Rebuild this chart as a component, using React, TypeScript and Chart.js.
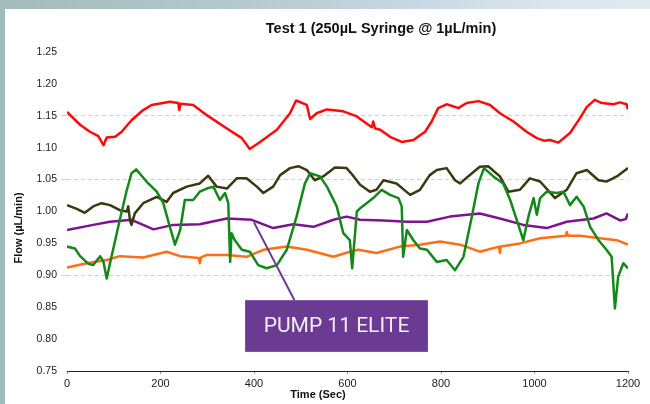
import React, { useEffect, useRef } from "react";
import { Chart, registerables } from "chart.js";

Chart.register(...registerables);

const TITLE = "Test 1 (250µL Syringe @ 1µL/min)";
const X_TITLE = "Time (Sec)";
const Y_TITLE = "Flow (µL/min)";
const CALLOUT_TEXT = "PUMP 11 ELITE";

const X_MIN = 0;
const X_MAX = 1200;
const X_STEP = 200;
const Y_MIN = 0.75;
const Y_MAX = 1.25;
const Y_STEP = 0.05;
const GRID_VALUES = [1.15, 1.05, 0.9];

// [time (s), flow (µL/min)]
const redSeries: [number, number][] = [
  [0, 1.156], [28, 1.136], [49, 1.125], [67, 1.118], [78, 1.104], [85, 1.116], [103, 1.117],
  [117, 1.125], [138, 1.143], [163, 1.159], [181, 1.167], [220, 1.172], [238, 1.17], [240, 1.159],
  [243, 1.169], [270, 1.167], [299, 1.151], [342, 1.13], [374, 1.115], [391, 1.098], [413, 1.109],
  [449, 1.128], [477, 1.154], [490, 1.174], [513, 1.167], [520, 1.145], [534, 1.154], [556, 1.16],
  [591, 1.157], [620, 1.149], [652, 1.132], [655, 1.141], [659, 1.13], [670, 1.128], [691, 1.117],
  [716, 1.109], [741, 1.112], [766, 1.125], [780, 1.141], [794, 1.162], [812, 1.168], [838, 1.162],
  [841, 1.164], [855, 1.17], [880, 1.173], [905, 1.167], [926, 1.154], [955, 1.141], [983, 1.125],
  [1005, 1.115], [1020, 1.111], [1033, 1.112], [1051, 1.108], [1076, 1.123], [1097, 1.146],
  [1112, 1.164], [1129, 1.175], [1144, 1.17], [1169, 1.168], [1183, 1.171], [1197, 1.168], [1200, 1.16],
];

const oliveSeries: [number, number][] = [
  [0, 1.01], [21, 1.004], [38, 0.998], [56, 1.008], [74, 1.013], [92, 1.01], [113, 1.002],
  [128, 1.0], [131, 1.008], [135, 0.985], [138, 0.979], [145, 0.997], [163, 1.013], [192, 1.023],
  [213, 1.015], [227, 1.029], [256, 1.039], [284, 1.044], [302, 1.056], [320, 1.039], [342, 1.036],
  [363, 1.052], [384, 1.052], [406, 1.039], [420, 1.029], [441, 1.039], [456, 1.057], [477, 1.068],
  [495, 1.071], [513, 1.065], [530, 1.049], [548, 1.055], [573, 1.069], [598, 1.068], [610, 1.058],
  [627, 1.042], [648, 1.031], [662, 1.034], [677, 1.049], [705, 1.044], [734, 1.026], [755, 1.034],
  [776, 1.057], [791, 1.065], [812, 1.068], [830, 1.049], [841, 1.044], [858, 1.055], [883, 1.07],
  [901, 1.071], [926, 1.055], [944, 1.031], [969, 1.034], [990, 1.052], [1012, 1.047], [1044, 1.021],
  [1069, 1.034], [1090, 1.06], [1112, 1.065], [1137, 1.049], [1154, 1.047], [1176, 1.055], [1200, 1.068],
];

const greenSeries: [number, number][] = [
  [0, 0.945], [17, 0.942], [28, 0.93], [46, 0.918], [56, 0.916], [71, 0.93], [78, 0.921], [85, 0.895],
  [92, 0.919], [113, 0.987], [128, 1.034], [138, 1.06], [148, 1.066], [170, 1.047], [192, 1.031],
  [206, 1.013], [220, 0.976], [231, 0.948], [242, 0.971], [252, 1.018], [270, 1.018], [284, 1.031],
  [299, 1.036], [313, 1.039], [327, 1.018], [338, 1.029], [345, 1.013], [349, 0.921], [352, 0.966],
  [359, 0.955], [374, 0.94], [391, 0.937], [409, 0.916], [427, 0.911], [449, 0.916], [470, 0.94],
  [491, 0.992], [509, 1.044], [520, 1.06], [541, 1.055], [556, 1.039], [577, 1.008], [591, 0.966],
  [605, 0.955], [610, 0.911], [620, 1.0], [627, 1.005], [641, 1.013], [655, 1.021], [673, 1.034],
  [691, 1.026], [709, 1.021], [716, 1.008], [719, 0.929], [727, 0.971], [741, 0.955], [755, 0.942],
  [770, 0.94], [791, 0.921], [812, 0.924], [830, 0.908], [848, 0.929], [866, 0.992], [880, 1.044],
  [892, 1.068], [912, 1.055], [933, 1.044], [948, 1.018], [962, 0.987], [976, 0.955], [987, 0.992],
  [998, 1.021], [1005, 0.995], [1012, 1.021], [1026, 1.031], [1048, 1.029], [1062, 1.031],
  [1076, 1.01], [1090, 1.023], [1105, 1.008], [1119, 0.976], [1137, 0.955], [1154, 0.94],
  [1165, 0.929], [1172, 0.848], [1179, 0.898], [1190, 0.919], [1200, 0.911],
];

const purpleSeries: [number, number][] = [
  [0, 0.971], [56, 0.979], [92, 0.984], [138, 0.987], [185, 0.972], [227, 0.979], [284, 0.98],
  [342, 0.989], [395, 0.987], [441, 0.974], [484, 0.98], [527, 0.976], [570, 0.987], [598, 0.992],
  [627, 0.987], [677, 0.986], [727, 0.984], [770, 0.984], [819, 0.992], [883, 0.997], [926, 0.989],
  [976, 0.979], [1026, 0.974], [1069, 0.984], [1126, 0.989], [1154, 0.997], [1183, 0.986],
  [1195, 0.988], [1200, 0.997],
];

const orangeSeries: [number, number][] = [
  [0, 0.912], [42, 0.919], [85, 0.924], [113, 0.93], [163, 0.928], [213, 0.937], [242, 0.93],
  [282, 0.927], [284, 0.919], [287, 0.928], [299, 0.932], [342, 0.932], [384, 0.929], [420, 0.94],
  [470, 0.945], [513, 0.94], [570, 0.929], [605, 0.937], [623, 0.94], [662, 0.935], [712, 0.945],
  [755, 0.948], [798, 0.953], [841, 0.948], [883, 0.937], [924, 0.945], [926, 0.935], [928, 0.945],
  [969, 0.95], [1012, 0.958], [1067, 0.962], [1069, 0.968], [1071, 0.962], [1097, 0.962],
  [1140, 0.958], [1176, 0.955], [1200, 0.948],
];

// callout: anchor on the purple trace, box spans (time, flow) ranges
const CALLOUT_ANCHOR: [number, number] = [400, 0.983];
const CALLOUT_BOX_T: [number, number] = [381, 772];
const CALLOUT_BOX_V: [number, number] = [0.861, 0.78];

const FONT = '"Liberation Sans", Arial, sans-serif';

const toPoints = (s: [number, number][]) => s.map(([x, y]) => ({ x, y }));

const overlayPlugin = {
  id: "overlay",
  afterDraw(chart: any) {
    const { ctx } = chart;
    const xs = chart.scales.x;
    const ys = chart.scales.y;
    ctx.save();
    // title
    ctx.fillStyle = "#111";
    ctx.textAlign = "center";
    ctx.textBaseline = "middle";
    ctx.font = `bold 14.5px ${FONT}`;
    ctx.fillText(TITLE, 381, 29);
    // x title
    ctx.font = `bold 11px ${FONT}`;
    ctx.fillText(X_TITLE, 318, 395);
    // y title
    ctx.save();
    ctx.translate(19, 228);
    ctx.rotate(-Math.PI / 2);
    ctx.font = `bold 11px ${FONT}`;
    ctx.fillText(Y_TITLE, 0, 0);
    ctx.restore();
    // callout
    const ax = xs.getPixelForValue(CALLOUT_ANCHOR[0]);
    const ay = ys.getPixelForValue(CALLOUT_ANCHOR[1]);
    const bl = xs.getPixelForValue(CALLOUT_BOX_T[0]);
    const br = xs.getPixelForValue(CALLOUT_BOX_T[1]);
    const bt = ys.getPixelForValue(CALLOUT_BOX_V[0]);
    const bb = ys.getPixelForValue(CALLOUT_BOX_V[1]);
    const ex = bl + (br - bl) * 0.27;
    ctx.strokeStyle = "#6b3a93";
    ctx.lineWidth = 2;
    ctx.beginPath();
    ctx.moveTo(ax, ay);
    ctx.lineTo(ex, bt);
    ctx.stroke();
    ctx.fillStyle = "#6b3a93";
    ctx.fillRect(bl, bt, br - bl, bb - bt);
    ctx.fillStyle = "#f2eef6";
    ctx.font = `21px Roboto, "Liberation Sans", sans-serif`;
    ctx.fillText(CALLOUT_TEXT, (bl + br) / 2, (bt + bb) / 2 + 1);
    ctx.restore();
  },
};

export default function App() {
  const ref = useRef<HTMLCanvasElement>(null);

  useEffect(() => {
    if (!ref.current) return;
    const mk = (data: [number, number][], color: string) => ({
      data: toPoints(data),
      borderColor: color,
      backgroundColor: color,
      borderWidth: 2.5,
      pointRadius: 0,
      tension: 0,
      fill: false,
      borderJoinStyle: "round" as const,
    });
    const chart = new Chart(ref.current, {
      type: "line",
      data: {
        datasets: [
          mk(greenSeries, "#14881a"),
          mk(oliveSeries, "#3b3812"),
          mk(redSeries, "#ff0a0a"),
          mk(purpleSeries, "#7e1290"),
          mk(orangeSeries, "#ff6e14"),
        ],
      },
      options: {
        animation: false,
        responsive: false,
        devicePixelRatio: 1,
        layout: { padding: { top: 52, right: 22, left: 0, bottom: 0 } },
        plugins: {
          legend: { display: false },
          tooltip: { enabled: false },
          title: { display: false },
        },
        scales: {
          x: {
            type: "linear",
            min: X_MIN,
            max: X_MAX,
            ticks: {
              stepSize: X_STEP,
              font: { family: FONT, size: 11 },
              color: "#222",
              padding: 3,
              maxRotation: 0,
              callback: (v: any) => String(v),
            },
            grid: { drawOnChartArea: false, tickLength: 3, color: "#999" },
            border: { display: true, color: "#222", width: 1 },
            title: { display: false },
            afterFit: (s: any) => {
              s.height = 33;
            },
          },
          y: {
            type: "linear",
            min: Y_MIN,
            max: Y_MAX,
            ticks: {
              stepSize: Y_STEP,
              font: { family: FONT, size: 10.5 },
              color: "#222",
              padding: 4,
              callback: (v: any) => Number(v).toFixed(2),
            },
            grid: {
              color: (c: any) =>
                c.tick && GRID_VALUES.some((g) => Math.abs(g - c.tick.value) < 1e-6) ? "#cfcfcf" : "rgba(0,0,0,0)",
              tickLength: 6,
              lineWidth: 1,
            },
            border: { display: false, dash: [4, 3] },
            afterFit: (s: any) => {
              s.width = 67;
            },
          },
        },
      },
      plugins: [overlayPlugin],
    } as any);
    return () => chart.destroy();
  }, []);

  return (
    <div
      style={{
        position: "absolute",
        left: 0,
        top: 0,
        width: 650,
        height: 404,
        overflow: "hidden",
        background: "#9fbaba",
      }}
    >
      <div
        style={{
          position: "absolute",
          left: 0,
          top: 0,
          width: 650,
          height: 9,
          background: "linear-gradient(to right, #a3bcbb 0%, #b3c8cc 35%, #c6d7e2 62%, #dbe6ee 85%, #e2eaf1 100%)",
        }}
      />
      <div style={{ position: "absolute", left: 5, top: 9, right: 0, bottom: 0, background: "#ffffff" }} />
      <canvas
        ref={ref}
        width={650}
        height={404}
        style={{ position: "absolute", left: 0, top: 0, width: 650, height: 404, display: "block" }}
      />
    </div>
  );
}
